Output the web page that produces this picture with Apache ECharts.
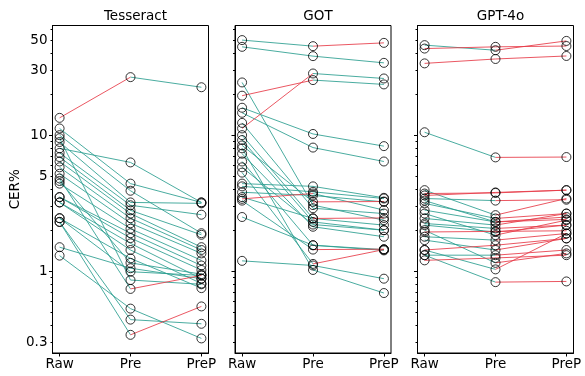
<!DOCTYPE html>
<html>
<head>
<meta charset="utf-8">
<script src="https://cdn.jsdelivr.net/npm/echarts@6/dist/echarts.min.js"></script>
<style>
  html, body { margin: 0; padding: 0; background: #fff; }
  #container { width: 585px; height: 376px; }
</style>
</head>
<body>
<div id="container"></div>
<script>
// stages on x, one panel per OCR engine
const stages = ["Raw", "Pre", "PreP"];
const panels = ["Tesseract", "GOT", "GPT-4o"];

// y ticks (log scale)
const yLabelTicks = [0.3, 1, 5, 10, 30, 50];
const yMajorTicks = [1, 10];
const yMinorTicks = [0.3, 0.4, 0.5, 0.6, 0.7, 0.8, 0.9, 2, 3, 4, 5, 6, 7, 8, 9, 20, 30, 40, 50, 60];

// CER% per document
const tessRaw  = [13.4, 11.2, 10, 8.9, 8.0, 7.4, 6.9, 6.4, 5.8, 5.2, 4.8, 4.4, 3.5, 3.5, 3.2, 3.2, 2.45, 2.3, 2.45, 1.5, 1.3, 2.3, 9.5, 4.6];
const tessPre  = [26.7, 4.4, 3.9, 3.2, 6.3, 3.05, 2.8, 2.65, 2.45, 2.25, 0.74, 2.05, 1.9, 1.75, 1.6, 1.43, 1.24, 0.34, 0.99, 1.05, 0.53, 0.44, 0.86, 1.15];
const tessPreP = [22.5, 3.2, 1.9, 3.15, 3.2, 2.6, 1.85, 1.5, 1.43, 1.35, 0.93, 1.2, 1.1, 1.02, 0.88, 0.81, 0.75, 0.55, 0.93, 0.88, 0.32, 0.41, 0.8, 0.95];

const gotRaw  = [50, 44.6, 19.5, 11.2, 24.4, 15.9, 14.6, 12.3, 10, 9.2, 8.4, 7.3, 6.4, 5.3, 4.4, 4.2, 3.8, 3.5, 3.4, 3.3, 2.5, 1.19, 8.0, 5.8];
const gotPre  = [45.1, 38.1, 25.4, 28.4, 3.06, 10.2, 8.1, 2.9, 2.44, 2.3, 3.23, 2.12, 1.55, 1.13, 4.2, 3.83, 3.6, 2.44, 3.72, 1.44, 1.55, 1.1, 1.02, 2.2];
const gotPreP = [47.7, 34, 23.6, 26.1, 2.37, 8.3, 6.4, 2.65, 2.18, 2.0, 3.25, 1.79, 1.42, 1.44, 3.46, 3.42, 3.23, 2.46, 2.81, 1.45, 1.44, 0.88, 0.69, 2.0];

const gptRaw  = [45.9, 43.3, 33.7, 10.5, 3.6, 3.94, 3.72, 3.42, 3.15, 2.81, 2.65, 2.44, 2.24, 2.18, 1.94, 1.79, 1.69, 1.43, 1.31, 1.2, 1.43, 1.31, 2.0, 3.3];
const gptPre  = [42.1, 44.6, 36.3, 6.86, 3.79, 2.58, 3.76, 3.3, 2.44, 2.3, 1.84, 2.18, 2.06, 1.94, 1.96, 1.69, 1.43, 1.55, 1.31, 1.25, 1.03, 0.83, 1.15, 2.3];
const gptPreP = [49.3, 45.2, 38.2, 6.9, 3.94, 3.42, 3.94, 3.35, 2.65, 2.5, 2.37, 2.65, 2.18, 2.18, 1.98, 1.89, 1.74, 1.74, 1.43, 1.31, 1.89, 0.84, 1.35, 2.4];

const panelData = [
  [tessRaw, tessPre, tessPreP],
  [gotRaw, gotPre, gotPreP],
  [gptRaw, gptPre, gptPreP],
];

const teal = "#2a9d8f";
const red = "#e63946";
const font = "DejaVu Sans";
const fsize = 13.5;
const gridLefts = [52.5, 235, 417.5];
const gridWidth = 156;

let dom = document.getElementById("container");
let myChart = echarts.init(dom, null, { renderer: "canvas" });

let grids = [];
let xAxes = [];
let yAxes = [];
let titles = [];
let series = [];

panels.forEach(function (name, gi) {
  grids.push({
    left: gridLefts[gi],
    width: gridWidth,
    top: 25.5,
    bottom: 23,
    show: true,
    borderColor: "#000",
    borderWidth: 1,
    backgroundColor: "transparent",
  });
  titles.push({
    text: name,
    left: gridLefts[gi] + gridWidth / 2,
    top: 4,
    textAlign: "center",
    textStyle: { fontSize: fsize, fontWeight: "normal", color: "#000", fontFamily: font },
  });
  xAxes.push({
    type: "value",
    gridIndex: gi,
    min: -0.1,
    max: 2.1,
    splitLine: { show: false },
    axisLine: { onZero: false, lineStyle: { color: "#000" } },
    axisTick: { customValues: [0, 1, 2], length: 3.5, lineStyle: { color: "#000" } },
    axisLabel: {
      customValues: [0, 1, 2],
      formatter: function (v) { return stages[Math.round(v)]; },
      color: "#000",
      fontSize: fsize,
      fontFamily: font,
      margin: 4,
    },
  });
  // main log axis: data, labels and major ticks
  yAxes.push({
    type: "log",
    logBase: 10,
    gridIndex: gi,
    position: "left",
    min: 0.25,
    max: 64,
    name: gi === 0 ? "CER%" : "",
    nameLocation: "middle",
    nameGap: 27,
    nameTextStyle: { fontSize: fsize, color: "#000", fontFamily: font },
    splitLine: { show: false },
    axisLine: { show: true, onZero: false, lineStyle: { color: "#000" } },
    axisTick: { customValues: yMajorTicks, length: 3.5, lineStyle: { color: "#000" } },
    axisLabel: {
      show: gi === 0,
      customValues: yLabelTicks,
      formatter: function (v) { return String(+v.toPrecision(3)); },
      color: "#000",
      fontSize: fsize,
      fontFamily: font,
      margin: 5,
    },
  });
  // overlay log axis: minor ticks only
  yAxes.push({
    type: "log",
    logBase: 10,
    gridIndex: gi,
    position: "left",
    min: 0.25,
    max: 64,
    splitLine: { show: false },
    axisLine: { show: false, onZero: false },
    axisTick: { customValues: yMinorTicks, length: 2, lineStyle: { color: "#000" } },
    axisLabel: { show: false },
  });

  const d = panelData[gi];
  let tealSegs = [];
  let redSegs = [];
  for (let i = 0; i < d[0].length; i++) {
    const vals = [d[0][i], d[1][i], d[2][i]];
    for (let s = 0; s < 2; s++) {
      const seg = [[s, vals[s]], [s + 1, vals[s + 1]]];
      if (vals[s + 1] > vals[s]) redSegs.push(seg);
      else tealSegs.push(seg);
    }
  }
  tealSegs.concat(redSegs).forEach(function (seg, k) {
    const up = k >= tealSegs.length;
    series.push({
      type: "line",
      xAxisIndex: gi,
      yAxisIndex: gi * 2,
      data: seg,
      symbol: "none",
      silent: true,
      animation: false,
      z: up ? 3 : 2,
      lineStyle: { color: up ? red : teal, width: 1, opacity: 0.85 },
    });
  });
  let pts = [];
  for (let c = 0; c < 3; c++) {
    d[c].forEach(function (v) { pts.push([c, v]); });
  }
  series.push({
    type: "scatter",
    xAxisIndex: gi,
    yAxisIndex: gi * 2,
    data: pts,
    symbol: "circle",
    symbolSize: 9,
    silent: true,
    animation: false,
    z: 5,
    itemStyle: { color: "rgba(0,0,0,0)", borderColor: "#000", borderWidth: 1 },
  });
});

let option = {
  animation: false,
  title: titles,
  grid: grids,
  xAxis: xAxes,
  yAxis: yAxes,
  series: series,
};

myChart.setOption(option);
window.addEventListener("resize", myChart.resize);
</script>
</body>
</html>
